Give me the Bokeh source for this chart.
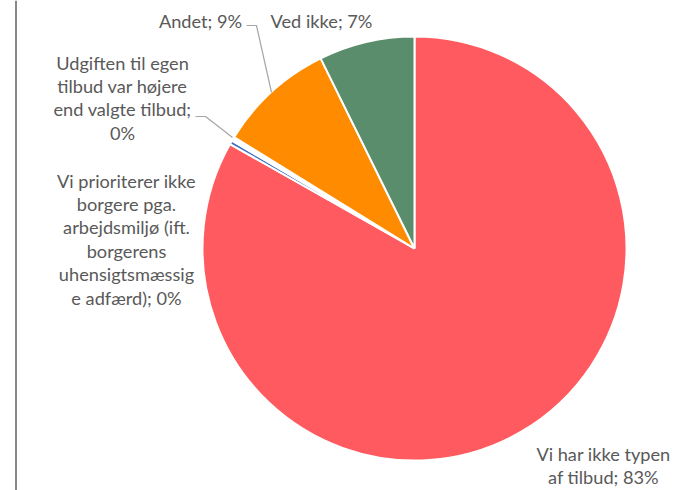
import math
from bokeh.plotting import figure
from bokeh.models import ColumnDataSource, Span
from bokeh.core.properties import value
from bokeh.embed import file_html
from bokeh.resources import INLINE

# ---- data ----
categories = [
    "Vi har ikke typen af tilbud",
    "Vi prioriterer ikke borgere pga. arbejdsmiljø (ift. borgerens uhensigtsmæssige adfærd)",
    "Udgiften til egen tilbud var højere end valgte tilbud",
    "Andet",
    "Ved ikke",
]
values = [83.2, 0.3, 0.3, 8.9, 7.3]
pct_labels = ["83%", "0%", "0%", "9%", "7%"]
colors = ["#FF5A5F", "#4472C4", "#FFFFFF", "#FF8C00", "#5A8D6B"]
# wrapped label lines as displayed
label_lines = [
    ["Vi har ikke typen", "af tilbud; 83%"],
    ["Vi prioriterer ikke", "borgere pga.", "arbejdsmiljø (ift.", "borgerens", "uhensigtsmæssig", "e adfærd); 0%"],
    ["Udgiften til egen", "tilbud var højere", "end valgte tilbud;", "0%"],
    ["Andet; 9%"],
    ["Ved ikke; 7%"],
]

W, H = 681, 490
p = figure(width=W, height=H, x_range=(0, W), y_range=(0, H),
           output_backend="svg", toolbar_location=None, min_border=0)
p.axis.visible = False
p.grid.visible = False
p.outline_line_color = None
p.background_fill_color = "white"

def fy(abs_y):
    return H - abs_y

def fx(abs_x):
    return abs_x

cx, cy, r = fx(414), fy(248), 212

total = sum(values)
starts, ends = [], []
cum = 0.0
for v in values:
    starts.append(math.pi / 2 - 2 * math.pi * cum / total)
    cum += v
    ends.append(math.pi / 2 - 2 * math.pi * cum / total)

src = ColumnDataSource(dict(start=starts, end=ends, color=colors, cat=categories, val=values))
p.wedge(x=cx, y=cy, radius=r, start_angle="start", end_angle="end", direction="clock",
        fill_color="color", line_color="white", line_width=2, source=src)

# leader lines
lead_col = "#A6A6A6"
p.line([fx(246), fx(256), fx(271)], [fy(25), fy(25), fy(92)], line_color=lead_col, line_width=1.2)
p.line([fx(195), fx(205), fx(232)], [fy(116), fy(116), fy(137)], line_color=lead_col, line_width=1.2)

# labels
anchors = [(603, 453), (126, 180), (122, 62), (200, 20), (321, 20)]
spacing = 23.4
xs, ys, ts = [], [], []
for (ax, ay), lines in zip(anchors, label_lines):
    for i, t in enumerate(lines):
        xs.append(fx(ax))
        ys.append(fy(ay + i * spacing))
        ts.append(t)
p.text(x=xs, y=ys, text=ts, text_align="center", text_baseline="middle",
       text_font=value("Lato"), text_font_size="18.2px", text_color="#595959")

# left border line
p.add_layout(Span(location=fx(15.5), dimension="height", line_color="#8E8682", line_width=2))

open("out.html", "w").write(file_html(p, INLINE))
